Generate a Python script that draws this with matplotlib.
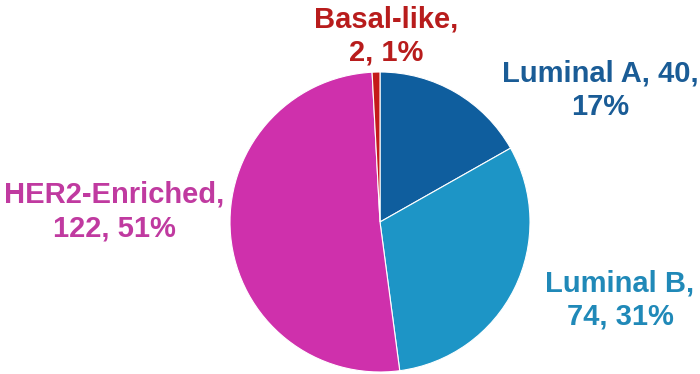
import matplotlib
matplotlib.use("Agg")
import matplotlib.pyplot as plt

# Données du graphique
sous_types = ["Luminal A", "Luminal B", "HER2-Enriched", "Basal-like"]
effectifs = [40, 74, 122, 2]
pourcentages = [17, 31, 51, 1]
couleurs = ["#0f5e9e", "#1d95c6", "#cf30ac", "#c41a1a"]
couleurs_texte = ["#1a5c96", "#2089b8", "#c03aa0", "#b81c1c"]
etiquettes = [
    "Luminal A, 40,\n17%",
    "Luminal B,\n74, 31%",
    "HER2-Enriched,\n122, 51%",
    "Basal-like,\n2, 1%",
]
# positions des étiquettes (en rayons, relatif au centre)
pos_etiquettes = [(1.47, 0.88), (1.60, -0.52), (-1.77, 0.07), (0.04, 1.24)]

plt.rcParams["font.family"] = ["Liberation Sans", "DejaVu Sans"]

fig = plt.figure(figsize=(7, 3.74), dpi=100)
ax = fig.add_axes([230 / 700, 2 / 374, 300 / 700, 300 / 374])

ax.pie(
    effectifs,
    colors=couleurs,
    startangle=90,
    counterclock=False,
    radius=1,
    wedgeprops={"edgecolor": "white", "linewidth": 0.8},
)
ax.set_xlim(-1, 1)
ax.set_ylim(-1, 1)
ax.set_aspect("equal")
ax.axis("off")

for txt, (x, y), c in zip(etiquettes, pos_etiquettes, couleurs_texte):
    ax.text(x, y, txt, color=c, fontsize=21, fontweight="bold",
            ha="center", va="center", linespacing=1.25, clip_on=False)

fig.savefig("out.png", dpi=100)
